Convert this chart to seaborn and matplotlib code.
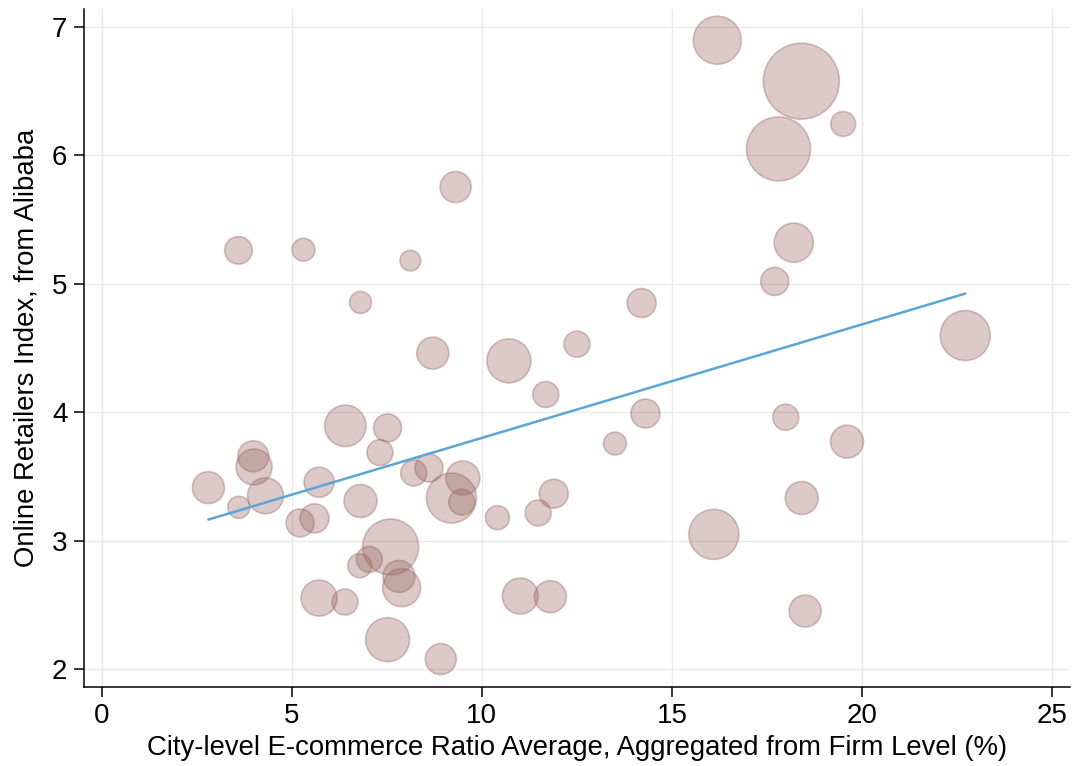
import numpy as np
import pandas as pd
import matplotlib
matplotlib.use("Agg")
import matplotlib.pyplot as plt
import seaborn as sns

# ---- data ----
ecommerce_ratio = [3.60, 5.31, 8.12, 6.81, 9.31, 8.71, 10.71, 16.19, 18.40, 19.50,
                   17.80, 18.20, 17.70, 22.71, 14.20, 12.50, 6.41, 7.52, 7.32, 3.99,
                   4.01, 2.81, 4.31, 3.61, 5.72, 5.22, 5.60, 6.81, 8.21, 8.61,
                   9.50, 9.20, 9.47, 10.41, 7.60, 7.04, 6.79, 7.82, 7.89, 5.72,
                   6.40, 7.52, 8.92, 11.01, 11.68, 14.30, 13.50, 17.99, 19.60, 11.89,
                   11.48, 18.41, 16.10, 11.80, 18.50]
retailers_index = [5.260, 5.265, 5.180, 4.855, 5.753, 4.460, 4.400, 6.896, 6.577, 6.244,
                   6.050, 5.320, 5.018, 4.597, 4.850, 4.530, 3.894, 3.878, 3.686, 3.657,
                   3.574, 3.413, 3.350, 3.260, 3.455, 3.138, 3.174, 3.309, 3.527, 3.566,
                   3.488, 3.332, 3.300, 3.179, 2.951, 2.855, 2.805, 2.722, 2.634, 2.553,
                   2.522, 2.229, 2.078, 2.569, 4.138, 3.990, 3.756, 3.961, 3.771, 3.366,
                   3.216, 3.332, 3.049, 2.564, 2.452]
# bubble weight (relative city size, ~ squared radius)
city_weight = [190, 130, 106, 121, 240, 256, 484, 576, 1444, 154,
               1024, 384, 196, 625, 210, 169, 428, 196, 169, 240,
               324, 256, 324, 121, 225, 196, 210, 272, 169, 196,
               289, 625, 169, 144, 784, 169, 144, 256, 361, 324,
               169, 484, 240, 324, 169, 210, 130, 169, 272, 210,
               169, 272, 625, 256, 256]
# linear fit
fit_intercept = 2.916
fit_slope = 0.0884

x_ticks = [0, 5, 10, 15, 20, 25]
y_ticks = [2, 3, 4, 5, 6, 7]
x_title = "City-level E-commerce Ratio Average, Aggregated from Firm Level (%)"
y_title = "Online Retailers Index, from Alibaba"

df = pd.DataFrame({"x": ecommerce_ratio, "y": retailers_index, "w": city_weight})

sns.set_theme(style="white")
plt.rcParams["font.family"] = ["Liberation Sans", "DejaVu Sans"]

fig = plt.figure(figsize=(10.72, 7.66), dpi=100)
ax = fig.add_axes([0.0784, 0.1035, 0.9196, 0.8844])

wmin, wmax = min(city_weight), max(city_weight)
k = (2 * 0.72) ** 2
face = (150/255, 100/255, 94/255, 0.34)
edge = (150/255, 100/255, 94/255, 0.38)
sns.scatterplot(data=df, x="x", y="y", size="w", sizes=(k * wmin, k * wmax),
                size_norm=(wmin, wmax), legend=False, ax=ax, zorder=3,
                color=face[:3], edgecolor=edge, linewidth=1.2)
coll = ax.collections[-1]
coll.set_alpha(None)
coll.set_facecolor(face)
coll.set_edgecolor(edge)

xs = np.array([min(ecommerce_ratio), max(ecommerce_ratio)])
sns.lineplot(x=xs, y=fit_intercept + fit_slope * xs, ax=ax, color="#5aa6d6",
             linewidth=1.8, zorder=4)

ax.set_xlim(-0.46, 25.46)
ax.set_ylim(1.863, 7.137)
ax.set_xticks(x_ticks)
ax.set_yticks(y_ticks)
ax.grid(True, color="#eaeaea", linewidth=1.0, zorder=0)
ax.set_axisbelow(True)
for s in ["top", "right"]:
    ax.spines[s].set_visible(False)
for s in ["left", "bottom"]:
    ax.spines[s].set_color("black")
    ax.spines[s].set_linewidth(1.1)
ax.tick_params(axis="both", direction="out", length=7, width=1.1, color="black",
               labelsize=20, labelcolor="black", left=True, bottom=True)
ax.tick_params(axis="x", pad=5)
ax.tick_params(axis="y", pad=5)
ax.set_xlabel(x_title, fontsize=19.8, color="black", labelpad=4)
ax.set_ylabel(y_title, fontsize=19.8, color="black", labelpad=9)

fig.savefig("out.png", dpi=100, facecolor="white")
